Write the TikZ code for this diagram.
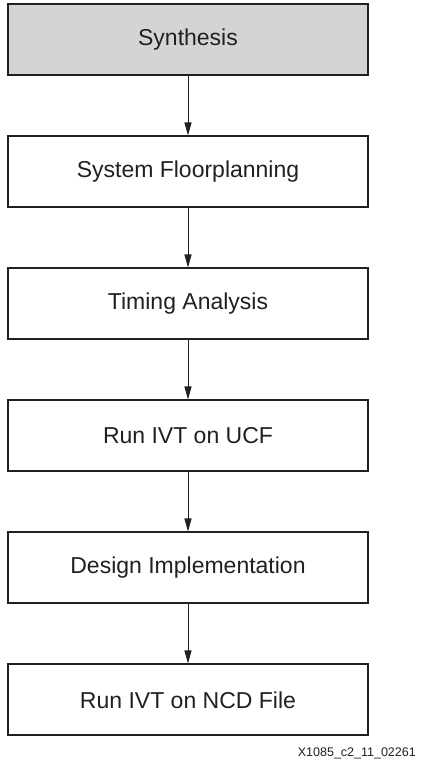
\documentclass[tikz,border=0pt]{standalone}
\usepackage{fontspec}
\setmainfont{Liberation Sans}
\usepackage{xcolor}
\usepackage{tikz}
\usetikzlibrary{positioning,arrows.meta}

\definecolor{inkdark}{HTML}{231F20}
\definecolor{synthgray}{HTML}{D3D4D6}

\tikzset{
    flowbox/.style={draw=inkdark, line width=2pt, minimum width=360pt, minimum height=71pt,
        inner sep=0pt, text=inkdark, font=\fontsize{23}{27}\selectfont},
    flowarrow/.style={draw=inkdark, line width=1pt, -{Triangle[length=13pt,width=7pt]}}
}

\begin{document}
\begin{tikzpicture}[x=1pt, y=1pt, node distance=59pt]
    \useasboundingbox (0,0) rectangle (423,764);

    % flow steps
    \node[flowbox, fill=synthgray] (synth) at (188,724) {Synthesis};
    \node[flowbox, below=of synth] (floor) {System Floorplanning};
    \node[flowbox, below=of floor] (timing) {Timing Analysis};
    \node[flowbox, below=of timing] (ucf) {Run IVT on UCF};
    \node[flowbox, below=of ucf] (impl) {Design Implementation};
    \node[flowbox, below=of impl] (ncd) {Run IVT on NCD File};

    % arrows between steps
    \draw[flowarrow] (synth) -- (floor);
    \draw[flowarrow] (floor) -- (timing);
    \draw[flowarrow] (timing) -- (ucf);
    \draw[flowarrow] (ucf) -- (impl);
    \draw[flowarrow] (impl) -- (ncd);

    % figure number
    \node[anchor=base east, inner sep=0pt, text=inkdark, font=\fontsize{12.5}{14}\selectfont] (figid) at (416,8) {X1085\_c2\_11\_02261};
\end{tikzpicture}
\end{document}
